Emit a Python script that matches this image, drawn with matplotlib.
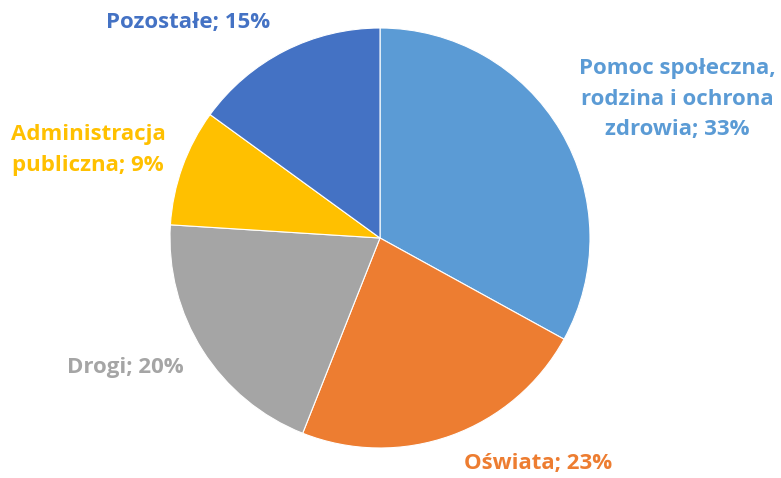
import matplotlib.pyplot as plt

# category shares (%) in clockwise order from 12 o'clock
categories = [
    "Pomoc społeczna,\nrodzina i ochrona\nzdrowia",
    "Oświata",
    "Drogi",
    "Administracja\npubliczna",
    "Pozostałe",
]
shares = [33, 23, 20, 9, 15]
colors = ["#5B9BD5", "#ED7D31", "#A5A5A5", "#FFC000", "#4472C4"]

# label anchor points in pixel coords (y measured from top)
label_pos = [(677, 99), (538, 463), (125, 368), (88, 150), (188, 22)]

W, H = 781, 478
fig = plt.figure(figsize=(W / 100, H / 100), dpi=100)
ax = fig.add_axes([0, 0, 1, 1])

ax.pie(
    shares, colors=colors, startangle=90, counterclock=False,
    center=(380, H - 238), radius=210,
    wedgeprops=dict(linewidth=0.8, edgecolor="white"),
)
# pie() resets the limits, so set the pixel frame afterwards
ax.set_xlim(0, W)
ax.set_ylim(0, H)
ax.set_aspect("equal")
ax.axis("off")

for cat, val, col, (px, py) in zip(categories, shares, colors, label_pos):
    ax.text(
        px, H - py, f"{cat}; {val}%", color=col, ha="center", va="center",
        fontsize=16, fontweight="bold", family="Open Sans", linespacing=1.6,
    )

fig.savefig("out.png", dpi=100)
